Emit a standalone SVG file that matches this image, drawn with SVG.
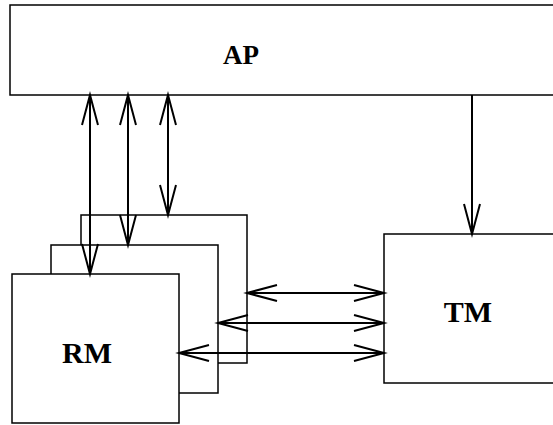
<svg xmlns="http://www.w3.org/2000/svg" width="553" height="425" viewBox="0 0 553 425">
<style>
.box{fill:#fff;stroke:#000;stroke-width:1.5}
.lbl{font-family:"Liberation Serif",serif;font-weight:bold;font-size:30px;text-anchor:middle;fill:#000}
.c{stroke:#000;stroke-width:2;fill:none}
</style>
<defs>
<marker id="ah" markerUnits="userSpaceOnUse" markerWidth="34" markerHeight="20" refX="31" refY="10" orient="auto-start-reverse" overflow="visible">
<path d="M1,2 L31,10 L1,18" fill="none" stroke="#000" stroke-width="2"/>
</marker>
</defs>
<rect width="553" height="425" fill="#fff"/>
<g id="AP"><rect class="box" x="10" y="5" width="560" height="90"/><text class="lbl" x="241" y="64" style="font-size:27px">AP</text></g>
<g id="RM3"><rect class="box" x="81" y="215" width="166" height="148"/></g>
<g id="RM2"><rect class="box" x="51" y="245" width="167" height="148"/></g>
<g id="RM"><rect class="box" x="12" y="274" width="167" height="149"/><text class="lbl" x="87" y="363">RM</text></g>
<g id="TM"><rect class="box" x="384" y="234" width="190" height="149"/><text class="lbl" x="468" y="322">TM</text></g>
<g id="connectors">
<line class="c" x1="90" y1="95" x2="90" y2="274" marker-start="url(#ah)" marker-end="url(#ah)"/>
<line class="c" x1="128" y1="95" x2="128" y2="245" marker-start="url(#ah)" marker-end="url(#ah)"/>
<line class="c" x1="168" y1="95" x2="168" y2="215" marker-start="url(#ah)" marker-end="url(#ah)"/>
<line class="c" x1="472" y1="95" x2="472" y2="234" marker-end="url(#ah)"/>
<line class="c" x1="247" y1="293" x2="384" y2="293" marker-start="url(#ah)" marker-end="url(#ah)"/>
<line class="c" x1="218" y1="323" x2="384" y2="323" marker-start="url(#ah)" marker-end="url(#ah)"/>
<line class="c" x1="179" y1="353" x2="384" y2="353" marker-start="url(#ah)" marker-end="url(#ah)"/>
</g>
</svg>
